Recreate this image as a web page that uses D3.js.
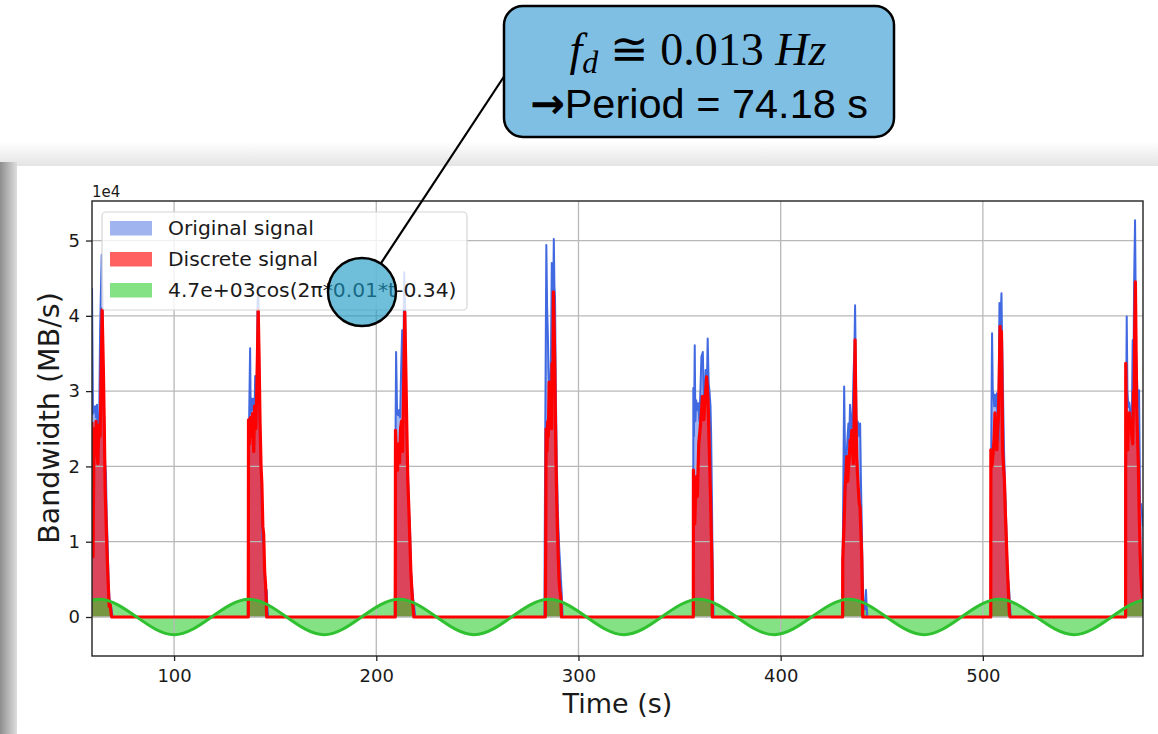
<!DOCTYPE html>
<html>
<head>
<meta charset="utf-8">
<script src="https://cdn.jsdelivr.net/npm/d3@7"></script>
<style>
  body { margin: 0; background: #fff; }
  svg { display: block; }
</style>
</head>
<body>
<div id="chart"></div>
<script>
// values (time in s, bandwidth in MB/s)
var timeTicks = [100, 200, 300, 400, 500];
var bwTicks = [0, 10000, 20000, 30000, 40000, 50000];

// blue "Original signal", one burst per row
var original = [
  [[59.4,43700],[59.9,27000],[60.4,27500],[60.9,28000],[61.4,26500],[61.9,28200],[62.4,20800],[62.9,24000],[63.4,38100],[64.2,48100],[64.6,42100],[65.0,30000],[65.4,26600],[65.9,20400],[66.3,19000],[66.7,13300],[67.2,9000],[67.6,4900],[68.0,2500],[68.4,1800],[69.0,1200],[69.6,0]],
  [[136.5,0],[136.7,11600],[137.1,26000],[137.6,35700],[137.9,27000],[138.4,29000],[138.8,27500],[139.2,29000],[139.7,26000],[140.1,32000],[140.5,25000],[140.9,31000],[141.3,42000],[141.7,43900],[142.1,33000],[142.5,23000],[143.0,19000],[143.4,15000],[143.8,10000],[144.2,11000],[144.6,6000],[145.0,4500],[145.4,2000],[145.8,3600],[146.2,1000],[146.6,0]],
  [[209.2,0],[209.3,15000],[209.8,35200],[210.3,27000],[210.8,26800],[211.3,27500],[211.8,26500],[212.3,33000],[212.8,38100],[213.3,30000],[213.8,45800],[214.2,42000],[214.7,30000],[215.2,22000],[215.7,19000],[216.2,14000],[216.7,11500],[217.2,6000],[217.7,4000],[218.2,2500],[218.7,1500],[219.3,0]],
  [[283.2,0],[283.3,9800],[283.6,25700],[284.1,49400],[284.5,41000],[284.8,38100],[285.2,33000],[285.5,31000],[285.9,32000],[286.3,31500],[286.8,47000],[287.2,40000],[287.6,45000],[287.8,50200],[288.1,44000],[288.4,42500],[288.8,30000],[289.3,20400],[289.7,15000],[290.1,11600],[290.5,9000],[290.9,7100],[291.3,5000],[291.7,3200],[292.0,1000],[292.2,0]],
  [[356.75,0],[356.8,30400],[357.1,24000],[357.5,36100],[357.8,26000],[358.2,28800],[358.8,27500],[359.3,28400],[359.8,26000],[360.3,30000],[360.8,34600],[361.5,35200],[361.9,30100],[362.3,27000],[362.9,32800],[363.4,29000],[363.9,37000],[364.4,31000],[364.8,30000],[365.3,28000],[365.6,24400],[366.0,16000],[366.2,10600],[366.6,2700],[366.8,0]],
  [[430.6,0],[430.7,8000],[431.0,18000],[431.4,30600],[431.8,22000],[432.2,16900],[432.7,22000],[433.1,24000],[433.5,25700],[433.9,23000],[434.3,28200],[434.8,26000],[435.2,24500],[435.6,27000],[436.0,31900],[436.5,36000],[436.8,41400],[437.2,32000],[437.6,24500],[438.0,26000],[438.4,25700],[438.8,24000],[439.3,25700],[439.7,18000],[440.1,12500],[440.5,6000],[440.9,2200],[441.3,1500],[441.7,1000],[442.2,3600],[442.5,1500],[442.9,0]],
  [[503.85,0],[503.9,11600],[504.2,25000],[504.55,37700],[504.9,30000],[505.2,29700],[505.6,28000],[506.0,29500],[506.4,28000],[506.9,29700],[507.3,26000],[507.7,23500],[508.0,35000],[508.2,41700],[508.6,38000],[509.2,43000],[509.5,37000],[509.8,33000],[510.2,26000],[510.5,21800],[510.9,18000],[511.3,14600],[511.7,11000],[512.1,7100],[512.5,5000],[513.0,3600],[513.4,1500],[513.8,0]],
  [[570.3,0],[570.35,15500],[570.8,25000],[571.15,39900],[571.5,30000],[571.97,27900],[572.4,28500],[572.8,27600],[573.2,25000],[573.62,25000],[574.1,36800],[574.4,30000],[574.78,44000],[575.27,52700],[575.6,42000],[575.77,35000],[576.1,33000],[576.43,30100],[576.9,28000],[577.25,30100],[577.6,20000],[577.74,14600],[578.2,15000],[578.6,14000],[579.2,12000]]
];

// red "Discrete signal"
var discrete = [
  [[59.4,25900],[59.9,8000],[60.4,25000],[60.9,21500],[61.4,26000],[61.8,22000],[62.3,20400],[62.8,25500],[63.4,24000],[63.8,30000],[64.4,40800],[65.0,33200],[65.5,25000],[65.9,17000],[66.4,12400],[66.8,8900],[67.4,4500],[67.9,1400],[68.4,1600],[68.9,300],[69.2,0]],
  [[136.7,0],[136.8,26200],[137.3,23000],[137.8,26500],[138.4,24000],[138.8,27000],[139.4,22000],[139.8,28000],[140.4,25000],[140.9,30000],[141.3,36000],[141.6,40800],[142.0,35000],[142.5,26000],[143.0,20000],[143.4,17800],[143.9,12000],[144.3,11000],[144.8,6000],[145.2,4500],[145.6,2000],[145.8,0]],
  [[209.4,0],[209.5,24800],[210.0,21000],[210.5,19500],[211.0,23000],[211.5,20500],[212.0,25000],[212.5,26000],[213.0,22000],[213.5,30000],[214.1,40500],[214.6,33000],[215.1,25000],[215.6,18000],[216.1,14500],[216.6,10200],[217.1,6000],[217.6,3600],[218.1,1500],[218.6,0]],
  [[283.6,0],[283.8,9800],[284.0,25000],[284.4,22000],[284.8,26000],[285.1,24000],[285.5,31200],[285.9,27000],[286.3,29000],[286.7,25000],[286.9,33700],[287.3,30000],[287.6,43200],[288.0,38000],[288.3,33000],[288.6,26000],[288.9,20400],[289.3,15000],[289.6,11600],[290.0,8000],[290.4,4900],[290.8,3500],[291.2,2700],[291.6,0]],
  [[356.8,0],[356.85,19500],[357.5,12400],[358.2,18600],[358.8,16000],[359.5,23100],[360.1,24800],[360.8,27100],[361.3,29300],[362.0,26200],[362.6,28800],[363.4,31900],[364.1,28800],[364.8,21300],[365.3,16000],[365.8,9800],[366.1,5800],[366.2,0]],
  [[430.65,0],[430.7,7600],[431.3,12000],[431.85,16900],[432.3,19000],[432.67,21300],[433.1,18000],[433.5,19500],[433.9,21000],[434.32,23500],[434.7,22000],[435.15,24800],[435.6,22000],[435.97,20400],[436.4,27000],[436.8,36800],[437.2,27000],[437.62,21300],[438.0,19000],[438.44,16900],[438.9,15000],[439.27,14600],[439.7,11000],[440.09,8000],[440.4,3000],[440.6,0]],
  [[503.9,0],[503.95,22200],[504.5,20000],[505.2,22200],[505.6,24000],[506.0,27100],[506.4,24000],[506.9,22200],[507.3,25000],[507.7,26500],[508.1,32000],[508.5,38600],[508.9,37000],[509.2,37900],[509.5,30000],[509.8,22200],[510.2,20000],[510.65,18200],[511.1,14000],[511.5,11100],[511.9,8000],[512.3,5400],[512.7,3000],[513.1,500],[513.45,0]],
  [[570.6,0],[570.66,33700],[571.0,25000],[571.64,22200],[572.0,26000],[572.47,27100],[572.9,25000],[573.29,26200],[573.7,24000],[574.12,23000],[574.5,30000],[574.78,28000],[575.1,38000],[575.44,44500],[575.8,35000],[576.1,27800],[576.5,24000],[576.92,20000],[577.3,14000],[577.74,8900],[578.1,6000],[578.57,3600],[579.23,2200]]
];

// green fitted cosine: peaks, zero crossings and troughs
var cosTimes = [44.4, 62.9, 81.5, 100.0, 118.5, 137.1, 155.6, 174.2, 192.7, 211.3, 229.8, 248.4, 266.9, 285.4, 304.0,
                322.5, 341.1, 359.6, 378.2, 396.7, 415.3, 433.8, 452.3, 470.9, 489.4, 508.0, 526.5, 545.1, 563.6, 582.2, 600.7];
var cosValues = [0, 2350, 0, -2350, 0, 2350, 0, -2350, 0, 2350, 0, -2350, 0, 2350, 0,
                 -2350, 0, 2350, 0, -2350, 0, 2350, 0, -2350, 0, 2350, 0, -2350, 0, 2350, 0];

var legendLabels = ["Original signal", "Discrete signal", "4.7e+03cos(2\u03c0*0.01*t-0.34)"];

var W = 1158, H = 734;
var margin = {top: 201, right: 15, bottom: 78, left: 92};

var svg = d3.select("#chart").append("svg")
    .attr("width", W)
    .attr("height", H);

var defs = svg.append("defs");

// slide background: grey strip on the left, faint shade over the figure
var lg = defs.append("linearGradient").attr("id", "leftShade").attr("x1", 0).attr("x2", 1).attr("y1", 0).attr("y2", 0);
lg.append("stop").attr("offset", "0%").attr("stop-color", "#8e8e8e");
lg.append("stop").attr("offset", "100%").attr("stop-color", "#dedede");
var tg = defs.append("linearGradient").attr("id", "topShade").attr("x1", 0).attr("x2", 0).attr("y1", 0).attr("y2", 1);
tg.append("stop").attr("offset", "0%").attr("stop-color", "#ffffff");
tg.append("stop").attr("offset", "100%").attr("stop-color", "#e4e4e4");

svg.append("rect").attr("x", 0).attr("y", 142).attr("width", W).attr("height", 24).attr("fill", "url(#topShade)");
svg.append("rect").attr("x", 0).attr("y", 162).attr("width", 17).attr("height", H - 162).attr("fill", "url(#leftShade)");
svg.append("rect").attr("x", 17).attr("y", 166).attr("width", W - 17).attr("height", H - 166).attr("fill", "#fff");

defs.append("clipPath").attr("id", "plotClip")
  .append("rect")
    .attr("x", margin.left).attr("y", margin.top)
    .attr("width", W - margin.left - margin.right)
    .attr("height", H - margin.top - margin.bottom);

var x = d3.scaleLinear()
    .domain([59.4, 579.2])
    .range([margin.left, W - margin.right]);

var y = d3.scaleLinear()
    .domain([-5180, 55250])
    .range([H - margin.bottom, margin.top]);

var origPts = d3.merge(original);
var discPts = d3.merge(discrete);
var cosPts = cosTimes.map(function(t, i) { return [t, cosValues[i]]; });

var area = d3.area()
    .x(function(d) { return x(d[0]); })
    .y0(y(0))
    .y1(function(d) { return y(d[1]); });
var line = d3.line()
    .x(function(d) { return x(d[0]); })
    .y(function(d) { return y(d[1]); });

var plot = svg.append("g").attr("clip-path", "url(#plotClip)");

// fills first
plot.append("path").attr("d", area(origPts))
    .attr("fill", "rgba(65,105,225,0.5)");
plot.append("path").attr("d", area(discPts))
    .attr("fill", "rgba(255,0,0,0.62)");
plot.append("path").attr("d", area.curve(d3.curveNatural)(cosPts))
    .attr("fill", "rgba(50,205,50,0.6)");

// grid sits above the fills, under the lines
plot.selectAll(".vgrid").data(timeTicks).enter()
  .append("line")
    .attr("x1", function(d) { return x(d); }).attr("x2", function(d) { return x(d); })
    .attr("y1", margin.top).attr("y2", H - margin.bottom)
    .attr("stroke", "#b8b8b8").attr("stroke-width", 1.3);
plot.selectAll(".hgrid").data(bwTicks).enter()
  .append("line")
    .attr("y1", function(d) { return y(d); }).attr("y2", function(d) { return y(d); })
    .attr("x1", margin.left).attr("x2", W - margin.right)
    .attr("stroke", "#b8b8b8").attr("stroke-width", 1.3);

plot.append("path").attr("d", line(origPts))
    .attr("fill", "none").attr("stroke", "#4169e1").attr("stroke-width", 2)
    .attr("stroke-linejoin", "round");
plot.append("path").attr("d", line(discPts))
    .attr("fill", "none").attr("stroke", "#ff0000").attr("stroke-width", 3.2)
    .attr("stroke-linejoin", "round");
plot.append("path").attr("d", line.curve(d3.curveNatural)(cosPts))
    .attr("fill", "none").attr("stroke", "#2fc12f").attr("stroke-width", 3);

// axes
var xAxis = svg.append("g")
    .attr("transform", "translate(0," + (H - margin.bottom) + ")")
    .call(d3.axisBottom(x).tickValues(timeTicks).tickSize(5).tickPadding(8).tickSizeOuter(0));
var yAxis = svg.append("g")
    .attr("transform", "translate(" + margin.left + ",0)")
    .call(d3.axisLeft(y).tickValues(bwTicks).tickSize(6).tickPadding(6).tickSizeOuter(0)
      .tickFormat(function(d) { return d / 10000; }));

[xAxis, yAxis].forEach(function(a) {
  a.select(".domain").remove();
  a.selectAll(".tick line").attr("stroke", "#222").attr("stroke-width", 1.3);
  a.selectAll(".tick text")
    .attr("fill", "#1a1a1a")
    .style("font-family", "'DejaVu Sans', sans-serif")
    .style("font-size", "18px");
});

// frame
svg.append("rect")
    .attr("x", margin.left).attr("y", margin.top)
    .attr("width", W - margin.left - margin.right)
    .attr("height", H - margin.top - margin.bottom)
    .attr("fill", "none").attr("stroke", "#222").attr("stroke-width", 1.4);

svg.append("text")
    .attr("x", margin.left).attr("y", 196.5)
    .style("font-family", "'DejaVu Sans', sans-serif").style("font-size", "15px")
    .attr("fill", "#1a1a1a")
    .text("1e4");

svg.append("text")
    .attr("x", (margin.left + W - margin.right) / 2).attr("y", 713)
    .attr("text-anchor", "middle")
    .style("font-family", "'DejaVu Sans', sans-serif").style("font-size", "27px")
    .attr("fill", "#1a1a1a")
    .text("Time (s)");

svg.append("text")
    .attr("transform", "translate(59,418) rotate(-90)")
    .attr("text-anchor", "middle")
    .style("font-family", "'DejaVu Sans', sans-serif").style("font-size", "28.5px")
    .attr("fill", "#1a1a1a")
    .text("Bandwidth (MB/s)");

// legend
var legend = svg.append("g");
legend.append("rect")
    .attr("x", 102).attr("y", 212).attr("width", 365).attr("height", 98)
    .attr("rx", 4)
    .attr("fill", "rgba(255,255,255,0.8)").attr("stroke", "#d6d6d6").attr("stroke-width", 1.2);
var legendColors = ["rgba(65,105,225,0.5)", "rgba(255,0,0,0.62)", "rgba(50,205,50,0.6)"];
legend.selectAll(".item").data(legendLabels).enter()
  .append("g")
    .attr("transform", function(d, i) { return "translate(0," + (i * 31) + ")"; })
  .each(function(d, i) {
    var g = d3.select(this);
    g.append("rect").attr("x", 110).attr("y", 221).attr("width", 42).attr("height", 14.5)
      .attr("fill", legendColors[i]);
    g.append("text").attr("x", 168).attr("y", 235)
      .style("font-family", "'DejaVu Sans', sans-serif").style("font-size", "20.3px")
      .attr("fill", "#1a1a1a")
      .text(d);
  });

// annotation: circle, leader line and callout box
var cx = 362, cy = 292, r = 34;
var bx = 505, by = 75;
var ang = Math.atan2(by - cy, bx - cx);
svg.append("line")
    .attr("x1", cx + r * Math.cos(ang)).attr("y1", cy + r * Math.sin(ang))
    .attr("x2", bx).attr("y2", by)
    .attr("stroke", "#000").attr("stroke-width", 2.2);
svg.append("circle")
    .attr("cx", cx).attr("cy", cy).attr("r", r)
    .attr("fill", "rgba(24,151,196,0.62)")
    .attr("stroke", "#000").attr("stroke-width", 2.5);

svg.append("rect")
    .attr("x", 504).attr("y", 6).attr("width", 390).attr("height", 131)
    .attr("rx", 19)
    .attr("fill", "#7fbfe4").attr("stroke", "#000").attr("stroke-width", 2.5);

var eq = svg.append("text")
    .attr("x", 698).attr("y", 65)
    .attr("text-anchor", "middle")
    .style("font-family", "'Liberation Serif', 'DejaVu Serif', serif").style("font-size", "46px")
    .attr("fill", "#000");
eq.append("tspan").style("font-style", "italic").text("f");
eq.append("tspan").style("font-style", "italic").style("font-size", "32px").attr("dy", 8).text("d");
eq.append("tspan").attr("dy", -8).text(" \u2245 0.013 ");
eq.append("tspan").style("font-style", "italic").text("Hz");

var per = svg.append("text")
    .attr("x", 699).attr("y", 118)
    .attr("text-anchor", "middle")
    .style("font-family", "'Liberation Sans', Arial, sans-serif").style("font-size", "41.5px")
    .attr("fill", "#000");
per.append("tspan").style("font-family", "'DejaVu Sans', sans-serif").style("font-weight", "bold").text("\u2192");
per.append("tspan").text("Period = 74.18 s");
</script>
</body>
</html>
